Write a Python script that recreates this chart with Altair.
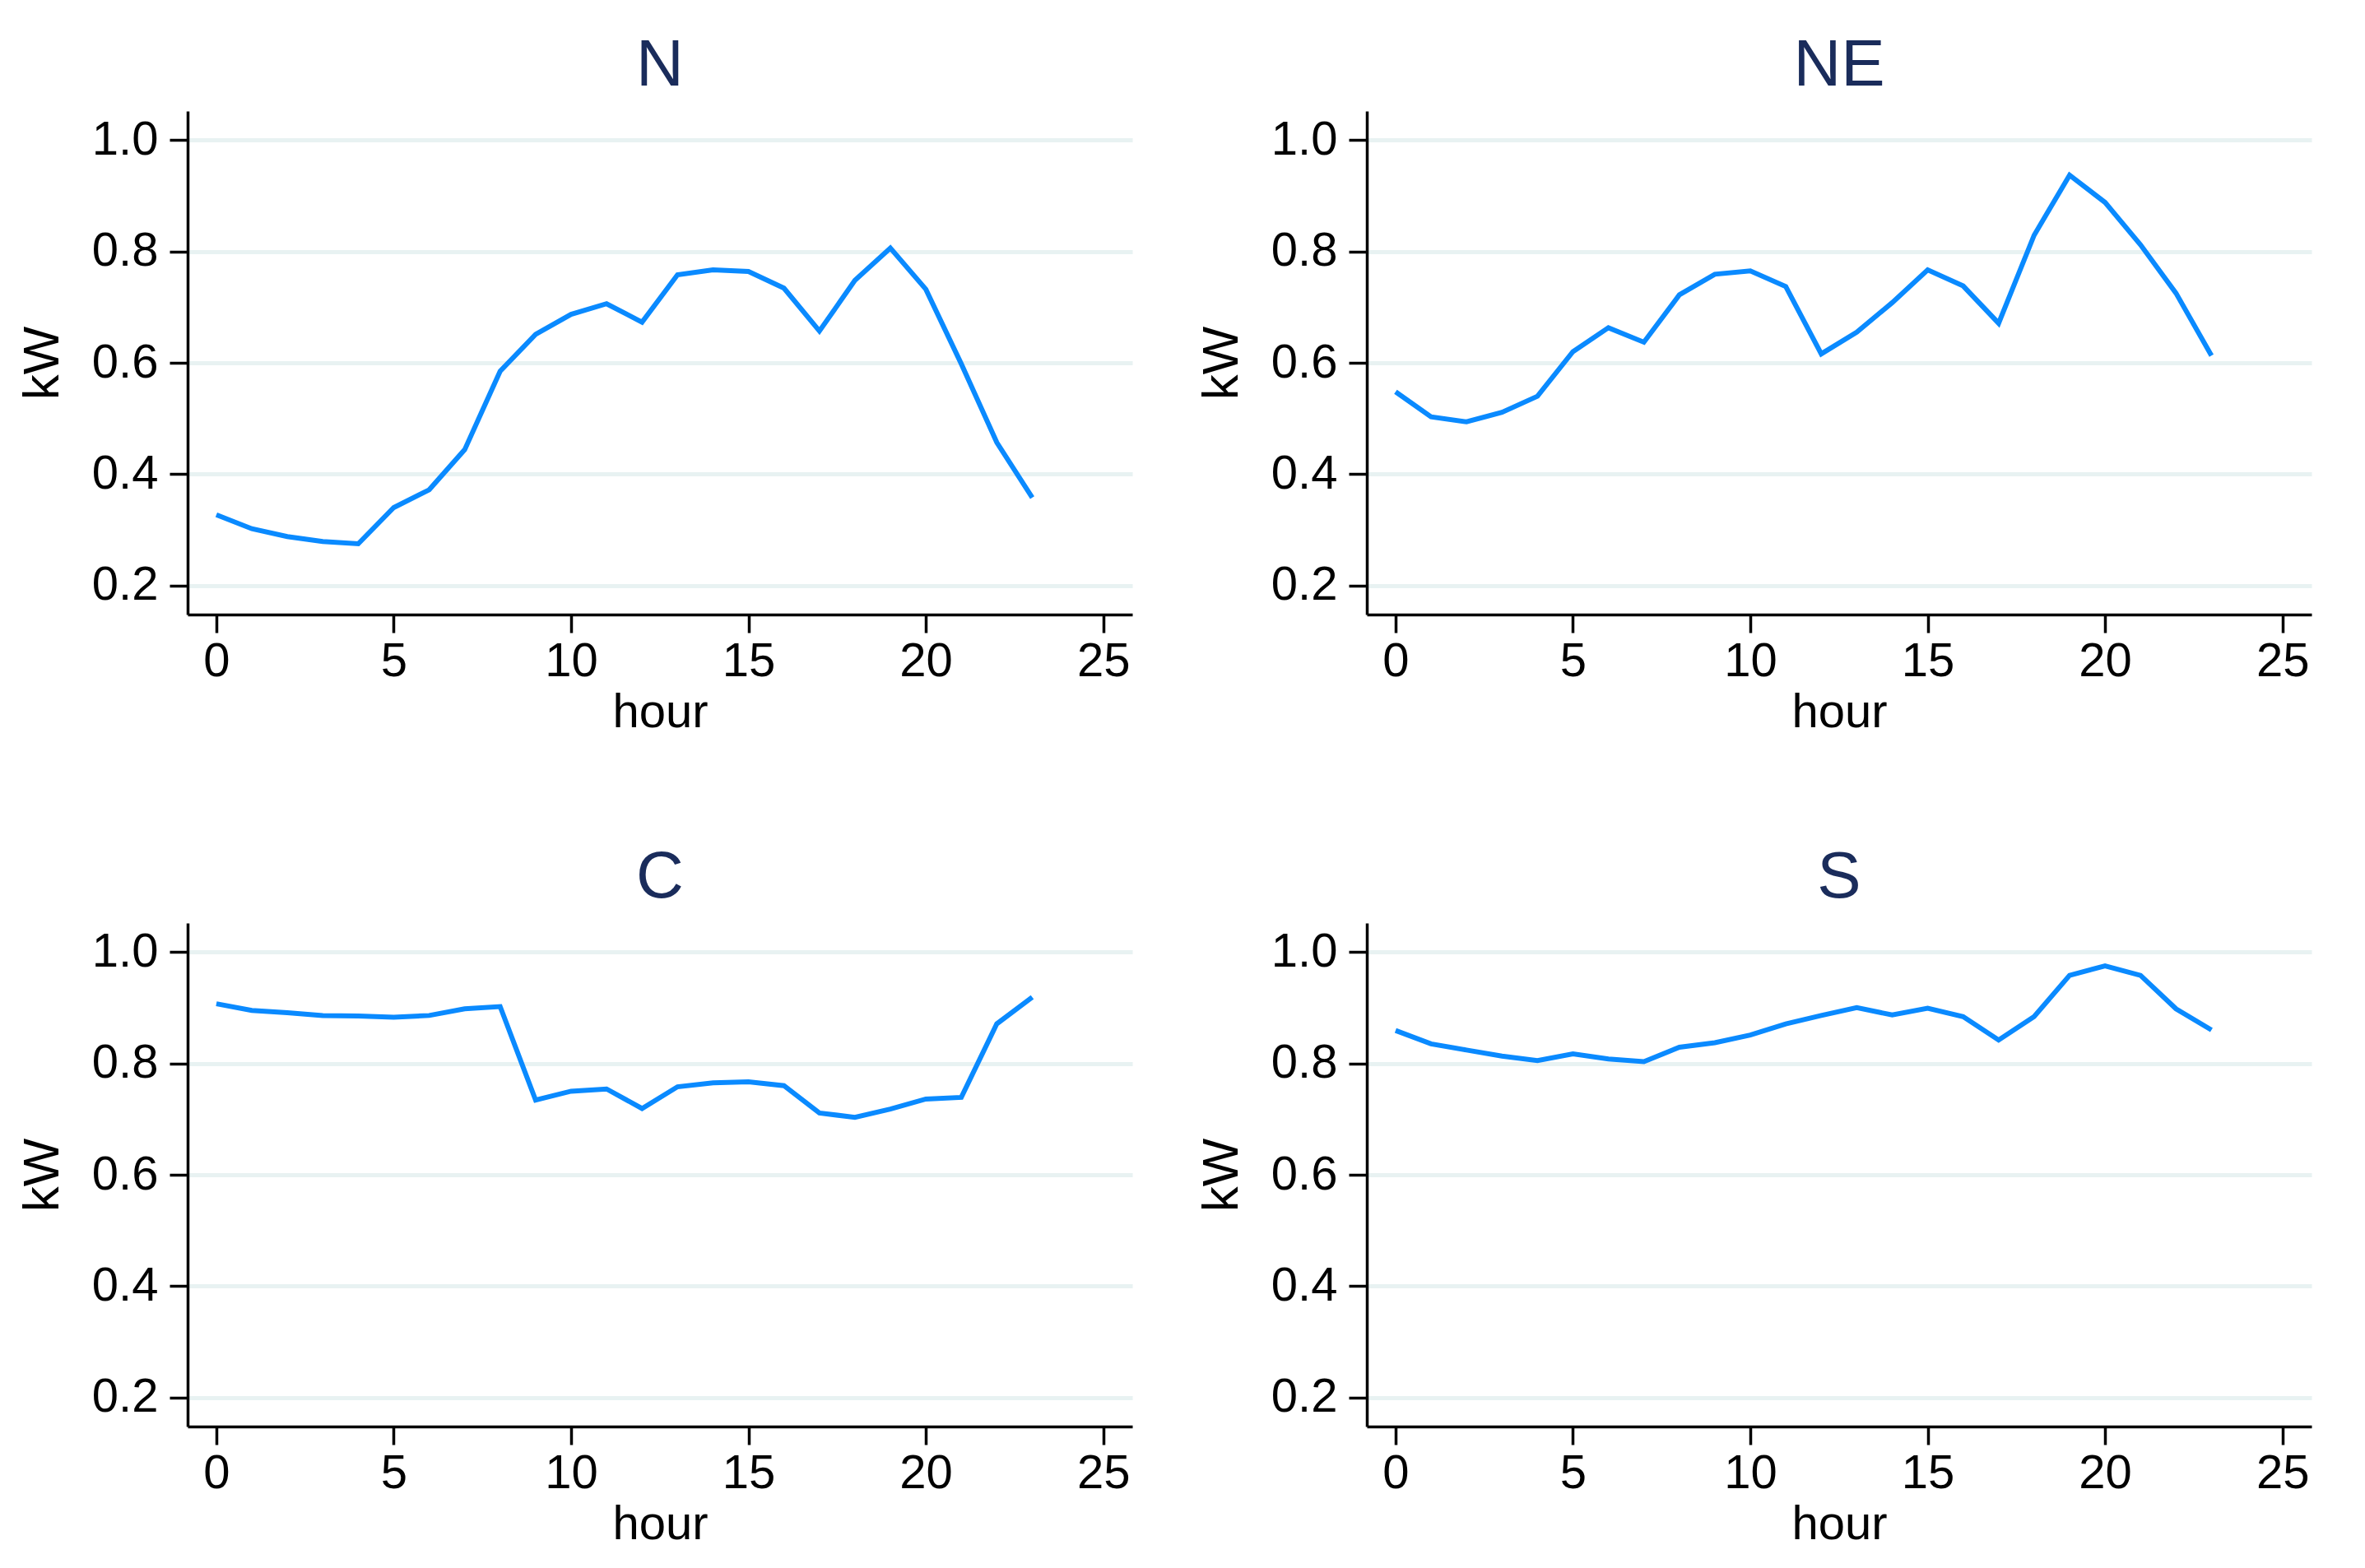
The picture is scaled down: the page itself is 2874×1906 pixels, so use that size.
import altair as alt
import pandas as pd

hours = list(range(24))
N = [0.327, 0.302, 0.288, 0.279, 0.275, 0.340, 0.372, 0.444, 0.585, 0.651, 0.687, 0.706,
     0.673, 0.758, 0.767, 0.764, 0.734, 0.657, 0.748, 0.806, 0.732, 0.598, 0.457, 0.358]
NE = [0.548, 0.503, 0.494, 0.511, 0.540, 0.620, 0.663, 0.637, 0.722, 0.759, 0.765, 0.737,
      0.616, 0.655, 0.708, 0.767, 0.738, 0.671, 0.829, 0.937, 0.888, 0.812, 0.725, 0.613]
C = [0.907, 0.895, 0.891, 0.886, 0.885, 0.883, 0.886, 0.898, 0.902, 0.734, 0.750, 0.754,
     0.719, 0.758, 0.765, 0.767, 0.760, 0.711, 0.703, 0.718, 0.736, 0.739, 0.871, 0.919]
S = [0.859, 0.835, 0.824, 0.813, 0.805, 0.817, 0.808, 0.803, 0.829, 0.837, 0.851, 0.871,
     0.886, 0.900, 0.887, 0.899, 0.884, 0.842, 0.884, 0.958, 0.975, 0.958, 0.898, 0.860]

regions = ["N", "NE", "C", "S"]
series = {"N": N, "NE": NE, "C": C, "S": S}
x_ticks = [0, 5, 10, 15, 20, 25]
y_ticks = [0.2, 0.4, 0.6, 0.8, 1.0]

FONT = "Liberation Sans"
W, H = 1148, 612


def panel(name):
    df = pd.DataFrame({"hour": hours, "kW": series[name]})
    return (
        alt.Chart(df)
        .mark_line(color="#0a8aff", strokeWidth=6)
        .encode(
            x=alt.X("hour:Q",
                    scale=alt.Scale(domain=[-0.81, 25.82], nice=False, zero=False),
                    axis=alt.Axis(values=x_ticks, title="hour", grid=False)),
            y=alt.Y("kW:Q",
                    scale=alt.Scale(domain=[0.148, 1.052], nice=False, zero=False),
                    axis=alt.Axis(values=y_ticks, format=".1f", title="kW", grid=True)),
        )
        .properties(width=W, height=H,
                    title=alt.TitleParams(name, fontSize=80, font=FONT, color="#1a2c5b",
                                          fontWeight="normal", baseline="alphabetic",
                                          offset=-49, anchor="middle", frame="group"))
    )


chart = (
    alt.concat(*[panel(r) for r in regions], columns=2,
               spacing=alt.RowColnumber(row=375, column=285), bounds="flush")
    .properties(padding={"left": 12, "top": 32, "right": 10, "bottom": 10})
    .configure_view(stroke=None)
    .configure_axis(
        labelFont=FONT, titleFont=FONT, labelFontSize=58, titleFontSize=58,
        labelColor="black", titleColor="black", titleFontWeight="normal",
        domainColor="black", domainWidth=3.5, tickColor="black", tickWidth=3.5,
        tickSize=22, gridColor="#e8f2f2", gridWidth=5,
    )
    .configure_axisX(labelPadding=6, titlePadding=4)
    .configure_axisY(labelPadding=14, titlePadding=28, titleFontSize=62)
)

chart.save("out.html", embed_options={"renderer": "svg", "actions": False})
